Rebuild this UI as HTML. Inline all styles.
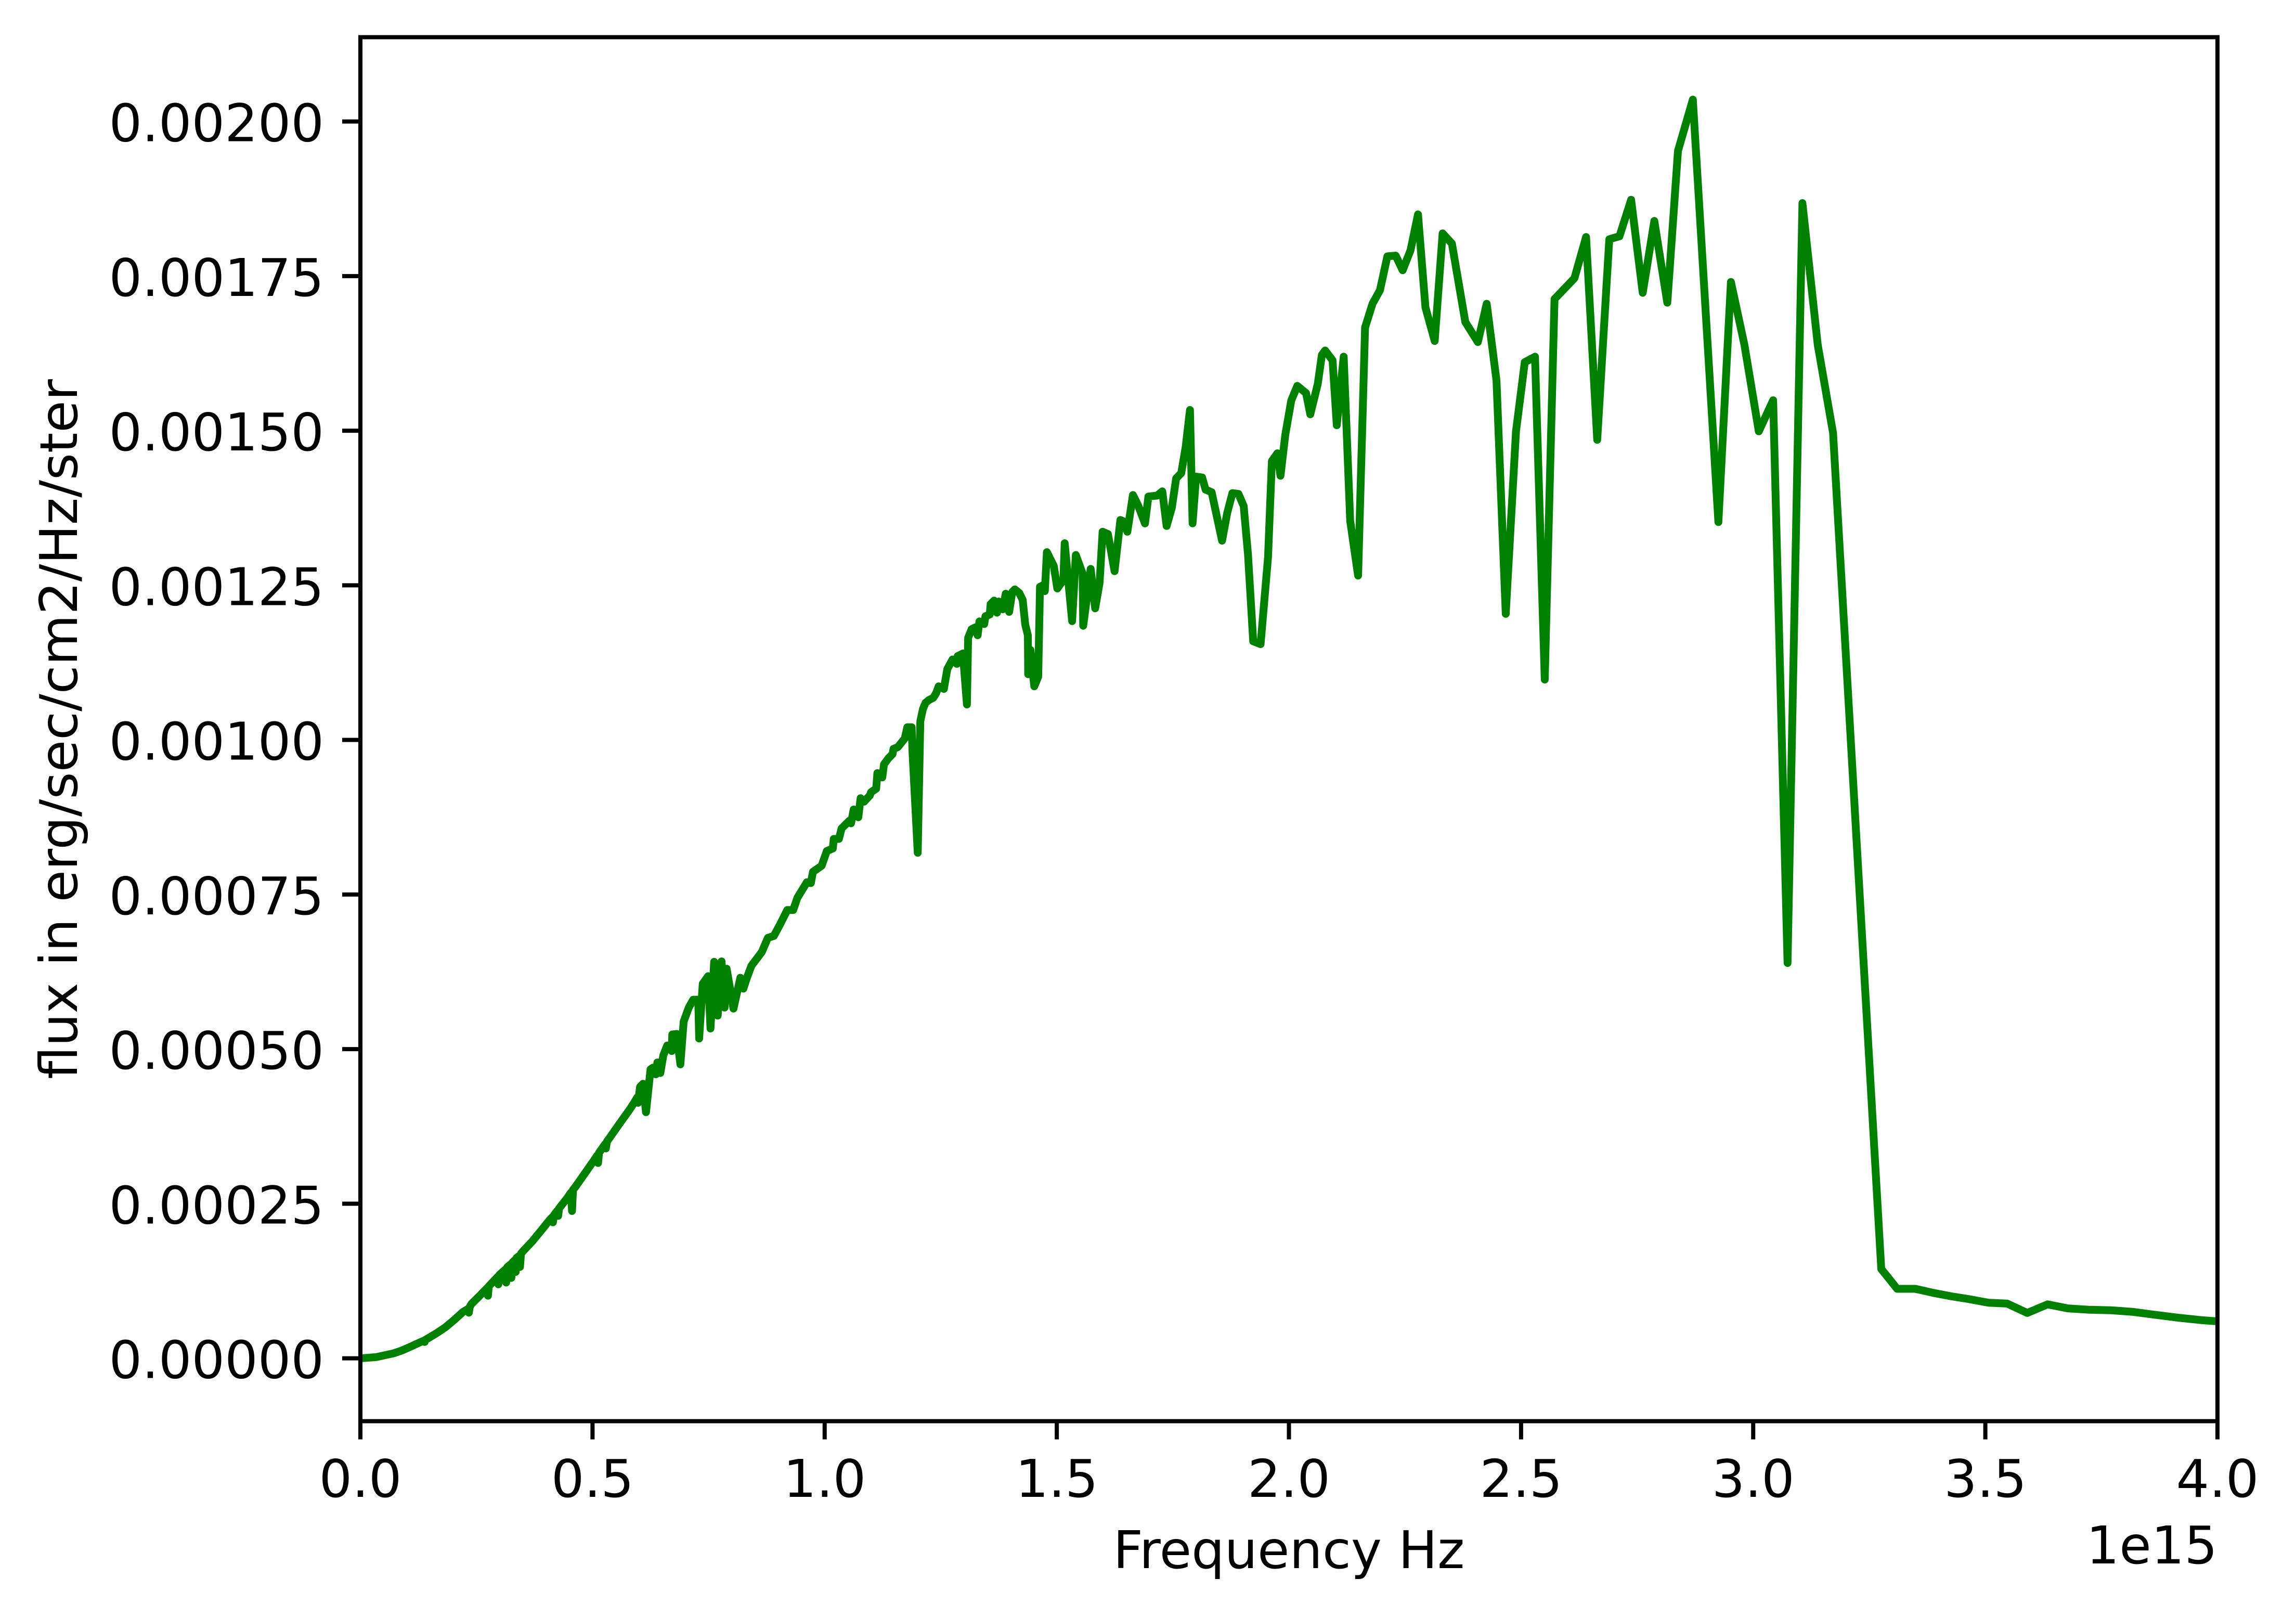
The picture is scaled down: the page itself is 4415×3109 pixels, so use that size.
<!DOCTYPE html>
<html lang="en">
<head>
<meta charset="utf-8">
<title>Flux vs Frequency</title>
<style>
html,body{margin:0;padding:0;background:#fff;}
svg{display:block;}
text{font-family:"DejaVu Sans","Liberation Sans",sans-serif;fill:#000;}
</style>
</head>
<body>
<svg id="chart" xmlns="http://www.w3.org/2000/svg" width="4415" height="3109" viewBox="0 0 4415 3109">
  <rect x="0" y="0" width="4415" height="3109" fill="#ffffff"/>
  <defs><clipPath id="plot-clip"><rect x="693" y="71.5" width="3571" height="2661"/></clipPath></defs>
  <g id="series" clip-path="url(#plot-clip)"></g>
  <g id="ticks"></g>
  <rect x="693" y="71.5" width="3571" height="2661" fill="none" stroke="#000" stroke-width="8"/>
  <text x="2478.5" y="3015" font-size="100" text-anchor="middle">Frequency Hz</text>
  <text x="4264" y="3006" font-size="100" text-anchor="end">1e15</text>
  <text transform="translate(148 1402) rotate(-90)" font-size="100" text-anchor="middle">flux in erg/sec/cm2/Hz/ster</text>
</svg>
<script>
const xTicks = [0, 0.5, 1, 1.5, 2, 2.5, 3, 3.5, 4];
const xTickLabels = ["0.0", "0.5", "1.0", "1.5", "2.0", "2.5", "3.0", "3.5", "4.0"];
const yTicks = [0, 0.25, 0.5, 0.75, 1, 1.25, 1.5, 1.75, 2];
const yTickLabels = ["0.00000", "0.00025", "0.00050", "0.00075", "0.00100", "0.00125", "0.00150", "0.00175", "0.00200"];

// Frequency in units of 1e15 Hz
const frequency = [
0,.034,.0713,.09,.1087,.127,.1375,.1385,.14,.146,
.1645,.1833,.202,.2207,.232,.2337,.2355,.2393,.258,.273,
.2748,.2766,.2955,.2972,.2995,.312,.314,.3165,.3235,.3252,
.3275,.333,.3345,.3365,.342,.3438,.346,.3513,.37,.3887,
.4073,.413,.4148,.417,.424,.426,.428,.4446,.4535,.4558,
.458,.4633,.482,.5007,.51,.5119,.514,.5193,.527,.5287,
.531,.538,.5566,.5805,.5901,.596,.5979,.6024,.6088,.6152,
.6249,.63,.6365,.6397,.6461,.6525,.6609,.6706,.6718,
.6815,.6892,.6963,.7072,.7169,.7278,.7297,.7374,.749,.7541,
.7619,.7696,.7779,.7844,.7889,.8036,.8184,.8249,.8326,.8422,
.8519,.8647,.8776,.8905,.9033,.9194,.9322,.9412,.9617,.9703,
.9748,.9934,1.0046,1.0176,1.0195,1.0307,1.0363,1.0531,1.0568,1.0624,
1.0725,1.0773,1.0848,1.0971,1.1,1.1109,1.1135,1.124,1.1277,1.137,
1.1463,1.1482,1.1576,1.1724,1.178,1.1874,1.1892,1.2004,1.206,1.2116,
1.2172,1.2245,1.2341,1.24,1.2456,1.2568,1.2642,1.2754,1.2848,1.2866,
1.2978,1.3064,1.309,1.3165,1.3239,1.3295,1.3333,1.3437,1.3463,1.3556,
1.3575,1.365,1.3713,1.375,1.3836,1.39,1.3974,1.4041,1.4097,1.419,
1.4265,1.4321,1.4377,1.4384,1.4433,1.4515,1.46,1.4638,1.4713,1.4742,
1.4787,1.4936,1.5011,1.5142,1.517,1.533,1.541,1.5556,1.5569,1.573,
1.5826,1.5922,1.5987,1.6102,1.6244,1.637,1.642,1.652,1.664,1.675,
1.69,1.6973,1.716,1.7272,1.7365,1.7477,1.757,1.768,1.7775,1.7868,
1.7924,1.7999,1.813,1.8204,1.8335,1.8559,1.867,1.8782,1.8913,1.9025,
1.9118,1.923,1.939,1.955,1.9633,1.9752,1.9819,1.992,2.005,2.018,
2.037,2.046,2.062,2.071,2.078,2.094,2.103,2.118,2.132,2.149,
2.164,2.18,2.196,2.212,2.23,2.245,2.262,2.278,2.294,2.314,
2.331,2.351,2.38,2.407,2.426,2.447,2.467,2.489,2.508,2.53,
2.551,2.572,2.615,2.64,2.664,2.69,2.712,2.737,2.762,2.787,
2.815,2.838,2.87,2.925,2.952,2.981,3.012,3.043,3.074,3.106,
3.139,3.172,3.2758,3.29,3.31,3.349,3.3875,3.4273,3.4636,3.5071,
3.5471,3.5904,3.634,3.6775,3.7246,3.7717,3.8188,3.8659,3.9167,3.9675,
4.0,4.03
];

// Flux in units of 1e-3 erg/sec/cm2/Hz/ster
const fluxMilli = [
0,.0019,.008,.0128,.019,.0254,.0288,.0265,.03,.0325,
.0408,.0503,.062,.0748,.08,.0738,.083,.088,.1019,.1135,
.1013,.1165,.1316,.1196,.135,.1435,.1225,.1475,.1518,.1299,
.155,.159,.1396,.1625,.1655,.1477,.1695,.174,.1889,.206,
.2235,.228,.2199,.2315,.2385,.2303,.2425,.2583,.268,.2382,
.2725,.2775,.2975,.3175,.328,.3158,.3325,.3379,.3462,.3394,
.3505,.3578,.3778,.4028,.414,.4215,.413,.439,.444,.398,
.4672,.47,.4592,.4785,.4614,.4898,.5059,.4969,.5236,
.5246,.4753,.5445,.5671,.5799,.5799,.5171,.6057,.6179,.5332,
.6411,.5542,.6418,.5671,.6299,.5655,.6154,.5977,.6154,.6347,
.6443,.6572,.6798,.683,.7007,.7248,.7248,.7447,.7699,.7685,
.7867,.7965,.8203,.8245,.8399,.8399,.8567,.8693,.8651,.8875,
.8749,.9057,.9001,.9099,.9155,.9211,.9463,.9393,.9603,.9701,
.9771,.9855,.9883,1.0023,1.0205,1.0205,.9799,.8175,1.0303,1.0499,
1.06,1.0644,1.0681,1.0754,1.0866,1.0824,1.1146,1.13,1.123,1.1356,
1.1398,1.0572,1.165,1.179,1.1818,1.1692,1.1916,1.1874,1.2,1.2028,
1.2196,1.2252,1.2056,1.2238,1.2112,1.2364,1.207,1.2392,1.2434,1.2378,
1.2266,1.186,1.1692,1.1062,1.1454,1.0866,1.102,1.2476,1.2504,1.2406,
1.3036,1.2812,1.2448,1.2588,1.318,1.192,1.299,1.269,1.1845,1.2765,
1.2127,1.254,1.3366,1.3329,1.2728,1.3556,1.354,1.3366,1.396,1.3794,
1.35,1.3935,1.395,1.4019,1.3459,1.3753,1.4229,1.4313,1.4733,1.5335,
1.3501,1.4257,1.4243,1.4047,1.4005,1.3221,1.3669,1.3991,1.3977,1.3781,
1.2997,1.1595,1.1548,1.2952,1.4509,1.4635,1.4271,1.4929,1.5489,1.5725,
1.5607,1.5265,1.5754,1.6227,1.6297,1.6138,1.5088,1.6197,1.3542,1.2657,
1.6669,1.7053,1.7271,1.782,1.7831,1.7595,1.792,1.8498,1.6994,1.6451,
1.8191,1.8026,1.6757,1.6433,1.7053,1.5814,1.2038,1.4987,1.6108,1.6197,
1.0975,1.7129,1.7466,1.8132,1.4852,1.8097,1.8144,1.8734,1.723,1.8392,
1.707,1.9526,2.0354,1.3522,1.7405,1.6391,1.499,1.5492,.6392,1.868,
1.6391,1.4963,.1443,.1313,.1124,.1124,.1059,.1002,.0959,.0898,
.0885,.0733,.0872,.0807,.0785,.0776,.075,.0703,.0655,.0616,
.0598,.0585
];

const svgNS = "http://www.w3.org/2000/svg";
function xPos(f) { return 693 + 892.75 * f; }
function yPos(v) { return 2611.6 - 1189 * v; }

const tickGroup = document.getElementById("ticks");
const seriesGroup = document.getElementById("series");

xTicks.forEach(function (t, i) {
  const tick = document.createElementNS(svgNS, "line");
  tick.setAttribute("x1", xPos(t));
  tick.setAttribute("x2", xPos(t));
  tick.setAttribute("y1", 2732.5);
  tick.setAttribute("y2", 2767.5);
  tick.setAttribute("stroke", "#000");
  tick.setAttribute("stroke-width", 8);
  
  
  tickGroup.appendChild(tick);
  const label = document.createElementNS(svgNS, "text");
  label.setAttribute("x", xPos(t));
  label.setAttribute("y", 2878);
  label.setAttribute("font-size", 100);
  label.setAttribute("text-anchor", "middle");
  
  
  label.textContent = xTickLabels[i];
  tickGroup.appendChild(label);
});

yTicks.forEach(function (t, i) {
  const tick = document.createElementNS(svgNS, "line");
  tick.setAttribute("x1", 658);
  tick.setAttribute("x2", 693);
  tick.setAttribute("y1", yPos(t));
  tick.setAttribute("y2", yPos(t));
  tick.setAttribute("stroke", "#000");
  tick.setAttribute("stroke-width", 8);
  
  
  tickGroup.appendChild(tick);
  const label = document.createElementNS(svgNS, "text");
  label.setAttribute("x", 623);
  label.setAttribute("y", yPos(t) + 38);
  label.setAttribute("font-size", 100);
  label.setAttribute("text-anchor", "end");
  
  
  label.textContent = yTickLabels[i];
  tickGroup.appendChild(label);
});

const pathData = frequency.map(function (f, i) {
  return (i ? "L" : "M") + xPos(f).toFixed(1) + " " + yPos(fluxMilli[i]).toFixed(1);
}).join(" ");
const fluxLine = document.createElementNS(svgNS, "path");
fluxLine.setAttribute("d", pathData);
fluxLine.setAttribute("fill", "none");
fluxLine.setAttribute("stroke", "#008000");
fluxLine.setAttribute("stroke-width", 15);
fluxLine.setAttribute("stroke-linejoin", "round");
fluxLine.setAttribute("stroke-linecap", "square");


seriesGroup.appendChild(fluxLine);
</script>
</body>
</html>
